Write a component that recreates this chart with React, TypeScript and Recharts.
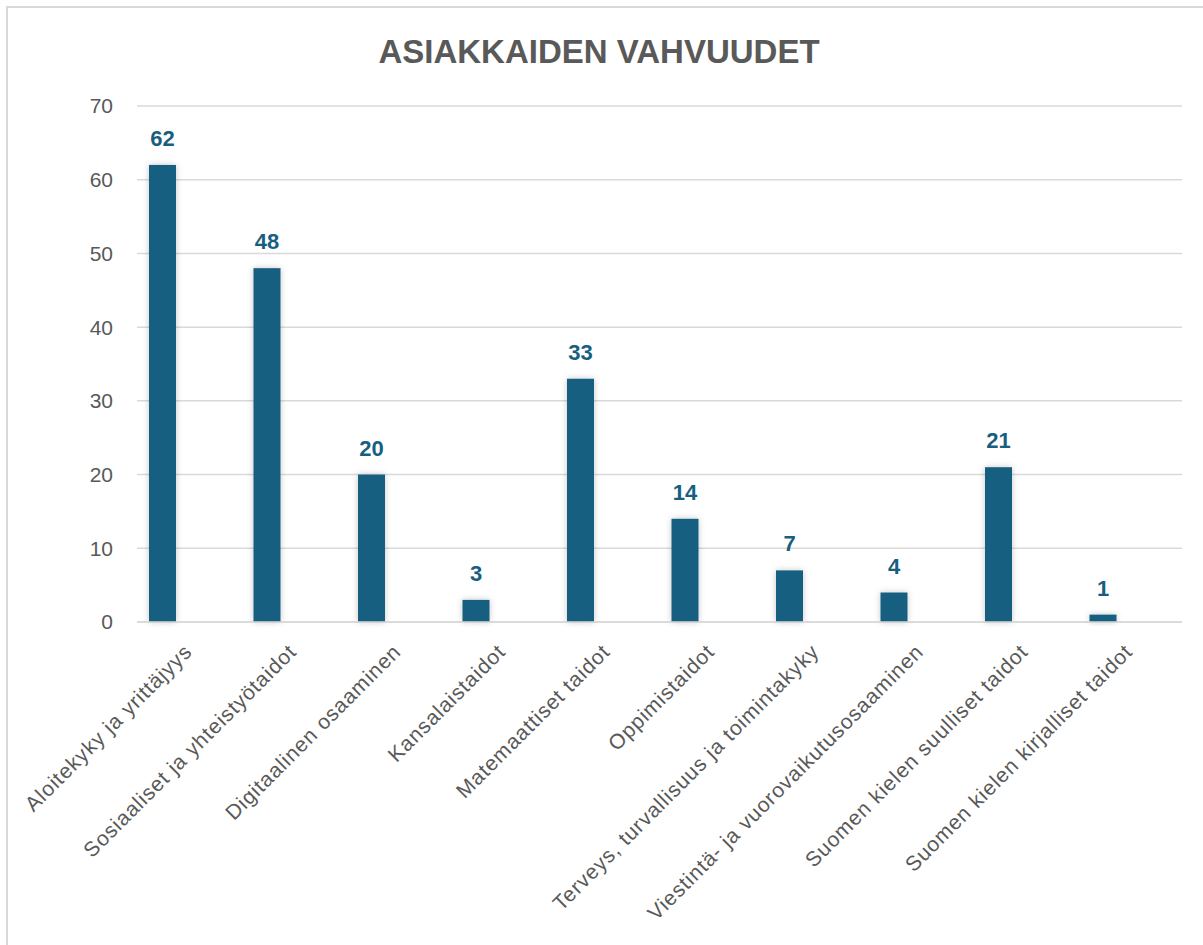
import { Bar, BarChart, CartesianGrid, LabelList, XAxis, YAxis } from "recharts"

const categories = [
  "Aloitekyky ja yrittäjyys",
  "Sosiaaliset ja yhteistyötaidot",
  "Digitaalinen osaaminen",
  "Kansalaistaidot",
  "Matemaattiset taidot",
  "Oppimistaidot",
  "Terveys, turvallisuus ja toimintakyky",
  "Viestintä- ja vuorovaikutusosaaminen",
  "Suomen kielen suulliset taidot",
  "Suomen kielen kirjalliset taidot"
]

const values = [62, 48, 20, 3, 33, 14, 7, 4, 21, 1]

const yTicks = [0, 10, 20, 30, 40, 50, 60, 70]

const data = categories.map((name, i) => ({ name, value: values[i] }))

const font = "'Liberation Sans', Arial, sans-serif"
const gray = "#595959"
const blue = "#175e80"

const CategoryTick = (props: any) => {
  const { x, y, payload } = props
  return (
    <text
      transform={`translate(${x + 4}, ${y + 23}) rotate(-45)`}
      textAnchor="end"
      fill={gray}
      fontSize={21}
      letterSpacing={0.9}
      fontFamily={font}
    >
      {payload.value}
    </text>
  )
}

const ShadowBar = (props: any) => {
  const { x, y, width, height } = props
  if (!height || height <= 0) return null
  return (
    <rect x={x} y={y} width={width} height={height} fill={blue} filter="url(#barShadow)" />
  )
}

export default function App() {
  return (
    <div
      style={{
        position: "fixed",
        left: 0,
        top: 0,
        width: 1203,
        height: 945,
        overflow: "hidden",
        background: "#fff",
        fontFamily: font
      }}
    >
      <div
        style={{
          position: "absolute",
          left: 6,
          top: 6,
          width: 1400,
          height: 1200,
          border: "2px solid #d9d9d9"
        }}
      />
      <div
        style={{
          position: "absolute",
          left: 0,
          top: 36,
          width: 1198,
          textAlign: "center",
          fontSize: 33,
          lineHeight: "32px",
          fontWeight: "bold",
          color: gray
        }}
      >
        ASIAKKAIDEN VAHVUUDET
      </div>
      <div style={{ position: "absolute", left: 0, top: 0 }}>
        <BarChart
          width={1203}
          height={945}
          data={data}
          margin={{ top: 106, right: 21, left: 0, bottom: 0 }}
          barGap={0}
        >
          <defs>
            <filter id="barShadow" x="-50%" y="-50%" width="200%" height="200%">
              <feDropShadow dx="0" dy="0" stdDeviation="3" floodColor="#000" floodOpacity="0.22" />
            </filter>
          </defs>
          <CartesianGrid vertical={false} stroke="#d9d9d9" strokeWidth={1.5} />
          <YAxis
            width={137}
            domain={[0, 70]}
            ticks={yTicks}
            axisLine={false}
            tickLine={false}
            tickMargin={18}
            tick={{ fill: gray, fontSize: 21, fontFamily: font }}
          />
          <XAxis
            dataKey="name"
            height={323}
            interval={0}
            axisLine={{ stroke: "#d9d9d9", strokeWidth: 1.5 }}
            tickLine={false}
            tick={<CategoryTick />}
          />
          <Bar dataKey="value" barSize={27} fill={blue} shape={<ShadowBar />} isAnimationActive={false}>
            <LabelList
              dataKey="value"
              position="top"
              offset={19}
              fill={blue}
              fontSize={22}
              fontWeight="bold"
              fontFamily={font}
            />
          </Bar>
          <Bar dataKey="empty1" barSize={27} fill={blue} isAnimationActive={false} />
          <Bar dataKey="empty2" barSize={27} fill={blue} isAnimationActive={false} />
        </BarChart>
      </div>
    </div>
  )
}
